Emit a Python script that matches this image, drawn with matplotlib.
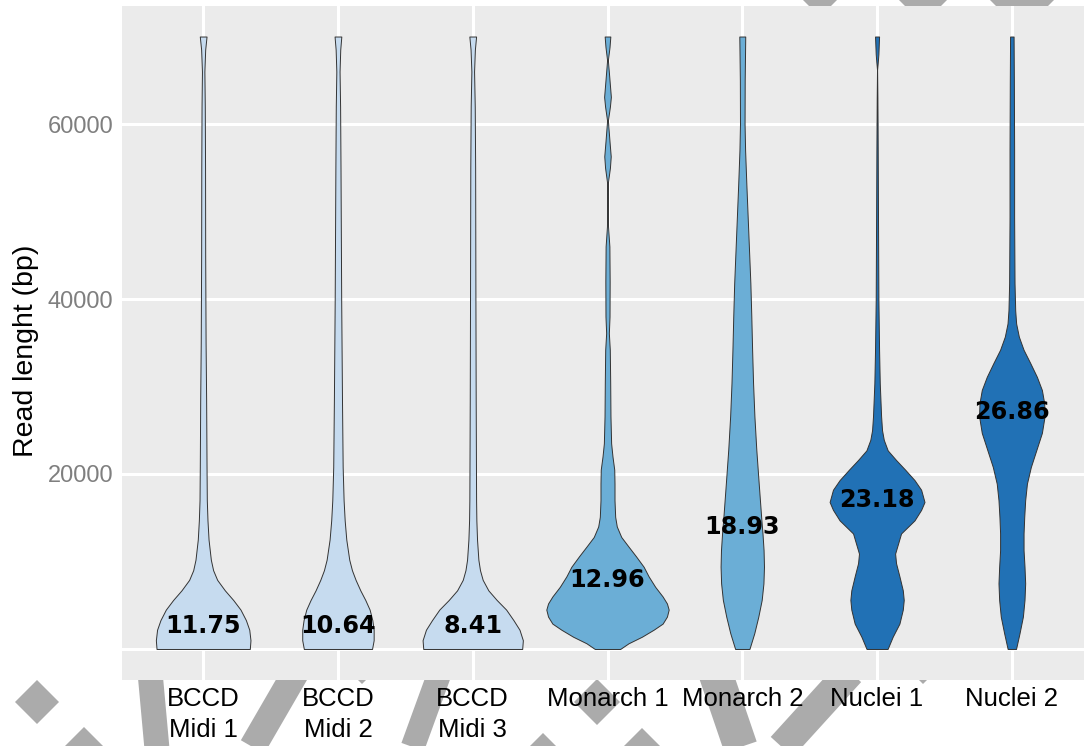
import matplotlib

matplotlib.use("Agg")
import matplotlib.pyplot as plt  # noqa: E402
from matplotlib.lines import Line2D  # noqa: E402
from matplotlib.patches import Polygon  # noqa: E402
import numpy as np  # noqa: E402

# Samples, in plotting order.
groups = ["BCCD\nMidi 1", "BCCD\nMidi 2", "BCCD\nMidi 3",
          "Monarch 1", "Monarch 2", "Nuclei 1", "Nuclei 2"]
fills = ["#c6dbef", "#c6dbef", "#c6dbef",
         "#6baed6", "#6baed6", "#2171b5", "#2171b5"]

# Read N50 (kb) printed on each violin, and the height (bp) it sits at.
n50 = ["11.75", "10.64", "8.41", "12.96", "18.93", "23.18", "26.86"]
n50_y = [1800, 1800, 1800, 7050, 13150, 16200, 26250]

# Violin outlines: read length (bp) and density half-width (in category units).
bccd1_y = [0, 1000, 2200, 3300, 4500, 5600, 6700, 7900, 9000, 10200, 12500,
           14700, 17000, 20800, 28500, 35000, 45000, 55000, 62000, 66000,
           68500, 70000]
bccd1_w = [0.346, 0.351, 0.342, 0.317, 0.277, 0.223, 0.161, 0.104, 0.074,
           0.057, 0.040, 0.032, 0.027, 0.025, 0.022, 0.018, 0.015, 0.014,
           0.012, 0.009, 0.015, 0.025]

bccd2_y = [0, 1000, 2200, 3300, 4500, 5600, 6700, 7900, 9000, 10200, 12500,
           14700, 17000, 20800, 28500, 40000, 55000, 62000, 66000, 68500,
           70000]
bccd2_w = [0.253, 0.265, 0.265, 0.255, 0.235, 0.203, 0.166, 0.131, 0.104,
           0.084, 0.062, 0.050, 0.042, 0.035, 0.030, 0.024, 0.019, 0.016,
           0.012, 0.017, 0.025]

bccd3_y = [0, 1000, 2200, 3300, 4500, 5600, 6700, 7900, 9000, 10200, 12500,
           14700, 17000, 28500, 40000, 55000, 62000, 66000, 68500, 70000]
bccd3_w = [0.367, 0.372, 0.347, 0.302, 0.248, 0.178, 0.116, 0.074, 0.054,
           0.042, 0.032, 0.027, 0.025, 0.022, 0.020, 0.018, 0.015, 0.010,
           0.016, 0.025]

monarch1_y = [0, 650, 1400, 2200, 2900, 3700, 4500, 5200, 6000, 7100, 8300,
              9400, 10600, 11700, 12800, 14000, 15100, 17000, 18900, 20500,
              22000, 23500, 26600, 30400, 34200, 36100, 38000, 42000, 46000,
              48300, 51000, 53300, 55000, 56300, 58000, 60400, 62000, 63100,
              65000, 67300, 68800, 70000]
monarch1_w = [0.094, 0.156, 0.255, 0.342, 0.409, 0.441, 0.454, 0.441, 0.409,
              0.354, 0.305, 0.268, 0.211, 0.156, 0.102, 0.069, 0.057, 0.052,
              0.052, 0.050, 0.037, 0.027, 0.022, 0.020, 0.017, 0.010, 0.015,
              0.016, 0.014, 0.004, 0.002, 0.003, 0.018, 0.024, 0.015, 0.003,
              0.018, 0.025, 0.015, 0.003, 0.015, 0.021]

monarch2_y = [0, 1800, 3700, 5600, 7500, 9400, 11300, 13200, 15100, 18900,
              22800, 26600, 30400, 34200, 38000, 41800, 45600, 49400, 53200,
              57000, 60000, 65000, 70000]
monarch2_w = [0.053, 0.089, 0.119, 0.144, 0.157, 0.161, 0.158, 0.150, 0.140,
              0.122, 0.104, 0.090, 0.080, 0.073, 0.067, 0.060, 0.050, 0.040,
              0.030, 0.021, 0.017, 0.018, 0.022]

nuclei1_y = [0, 1400, 2900, 4500, 5600, 6700, 8300, 9800, 10900, 13200,
             14700, 15900, 16800, 18200, 19300, 20500, 21600, 22700, 23900,
             25000, 26600, 30400, 34200, 39900, 49400, 57000, 63000, 66200,
             68000, 70000]
nuclei1_w = [0.078, 0.116, 0.166, 0.191, 0.198, 0.191, 0.166, 0.141, 0.134,
             0.178, 0.278, 0.327, 0.352, 0.327, 0.278, 0.208, 0.141, 0.079,
             0.050, 0.037, 0.030, 0.020, 0.015, 0.010, 0.007, 0.005, 0.003,
             0.001, 0.010, 0.015]

nuclei2_y = [0, 1800, 3700, 5600, 7500, 9400, 11300, 13200, 15100, 17000,
             18900, 20800, 22700, 24700, 26600, 28100, 29600, 31100, 32700,
             34200, 35700, 37200, 38700, 41800, 49400, 57000, 65000, 70000]
nuclei2_w = [0.031, 0.057, 0.082, 0.094, 0.099, 0.094, 0.087, 0.087, 0.092,
             0.099, 0.112, 0.141, 0.181, 0.223, 0.243, 0.240, 0.223, 0.186,
             0.136, 0.087, 0.052, 0.032, 0.025, 0.020, 0.017, 0.017, 0.015,
             0.013]

y_ticks = [0, 20000, 40000, 60000]
y_ticklabels = ["", "20000", "40000", "60000"]

W, H, DPI = 1084, 746, 100
PANEL = "#ebebeb"
EDGE = "#333333"
MARK = "#ababab"
SANS = ["Liberation Sans", "DejaVu Sans"]


def fig_xy(x, y):
    """pixel (from top-left) -> figure fraction"""
    return x / W, 1 - y / H


def diamond(fig, cx, cy, r):
    pts = [fig_xy(cx - r, cy), fig_xy(cx, cy - r),
           fig_xy(cx + r, cy), fig_xy(cx, cy + r)]
    fig.add_artist(Polygon(pts, closed=True, transform=fig.transFigure,
                           facecolor=MARK, edgecolor="none", zorder=-1))


def stroke(fig, x0, y0, x1, y1, width):
    (a, b), (c, d) = fig_xy(x0, y0), fig_xy(x1, y1)
    fig.add_artist(Line2D([a, c], [b, d], transform=fig.transFigure,
                          lw=width * 72 / DPI, color=MARK,
                          solid_capstyle="butt", zorder=-1))


def backdrop(fig):
    # grey logo marks behind the panel
    for cx, cy, r in [(37, 702, 22), (84, 750, 23), (362, 662, 22),
                      (597, 702, 23), (543, 757, 24), (642, 752, 24),
                      (923, 662, 22), (820, -8, 25), (923, -6, 30),
                      (1022, -10, 42)]:
        diamond(fig, cx, cy, r)
    stroke(fig, 150, 672, 158, 760, 25)
    stroke(fig, 296, 672, 245, 760, 27)
    stroke(fig, 440, 672, 408, 760, 24)
    stroke(fig, 715, 672, 745, 760, 34)
    stroke(fig, 850, 672, 770, 760, 30)


profiles = [(bccd1_y, bccd1_w), (bccd2_y, bccd2_w), (bccd3_y, bccd3_w),
            (monarch1_y, monarch1_w), (monarch2_y, monarch2_w),
            (nuclei1_y, nuclei1_w), (nuclei2_y, nuclei2_w)]

fig = plt.figure(figsize=(W / DPI, H / DPI), dpi=DPI)
fig.patch.set_facecolor("white")
backdrop(fig)

ax = fig.add_axes([122.3 / W, (H - 679.6) / H, 970.4 / W, 673.7 / H])
ax.set_facecolor(PANEL)
for s in ax.spines.values():
    s.set_visible(False)

pos = np.arange(1, len(groups) + 1)
for p, (ys, ws), col in zip(pos, profiles, fills):
    ys = np.asarray(ys, float)
    ws = np.asarray(ws, float)
    ax.fill_betweenx(ys, p - ws, p + ws, facecolor=col, edgecolor=EDGE,
                     linewidth=0.7, zorder=2)

for p, txt, y in zip(pos, n50, n50_y):
    ax.text(p, y, txt, ha="center", va="baseline", fontsize=17.2,
            fontweight="bold", family="DejaVu Sans", color="black", zorder=3)

ax.set_xlim(0.4, len(groups) + 0.6)
ax.set_ylim(-3500, 73500)
ax.set_xticks(pos)
ax.set_xticklabels(groups, family=SANS, fontsize=18.5, color="black",
                   linespacing=1.38)
ax.set_yticks(y_ticks)
ax.set_yticklabels(y_ticklabels, family=SANS, fontsize=17, color="#7f7f7f")
ax.tick_params(axis="x", length=0, pad=5.5)
ax.tick_params(axis="y", length=0, pad=6.5)
ax.grid(True, color="white", linewidth=2.2)
ax.set_axisbelow(True)

ax.set_ylabel("Read lenght (bp)", family=SANS, fontsize=20.5, color="black")
ax.yaxis.set_label_coords(-0.086, 0.488)

fig.savefig("out.png", dpi=DPI)
